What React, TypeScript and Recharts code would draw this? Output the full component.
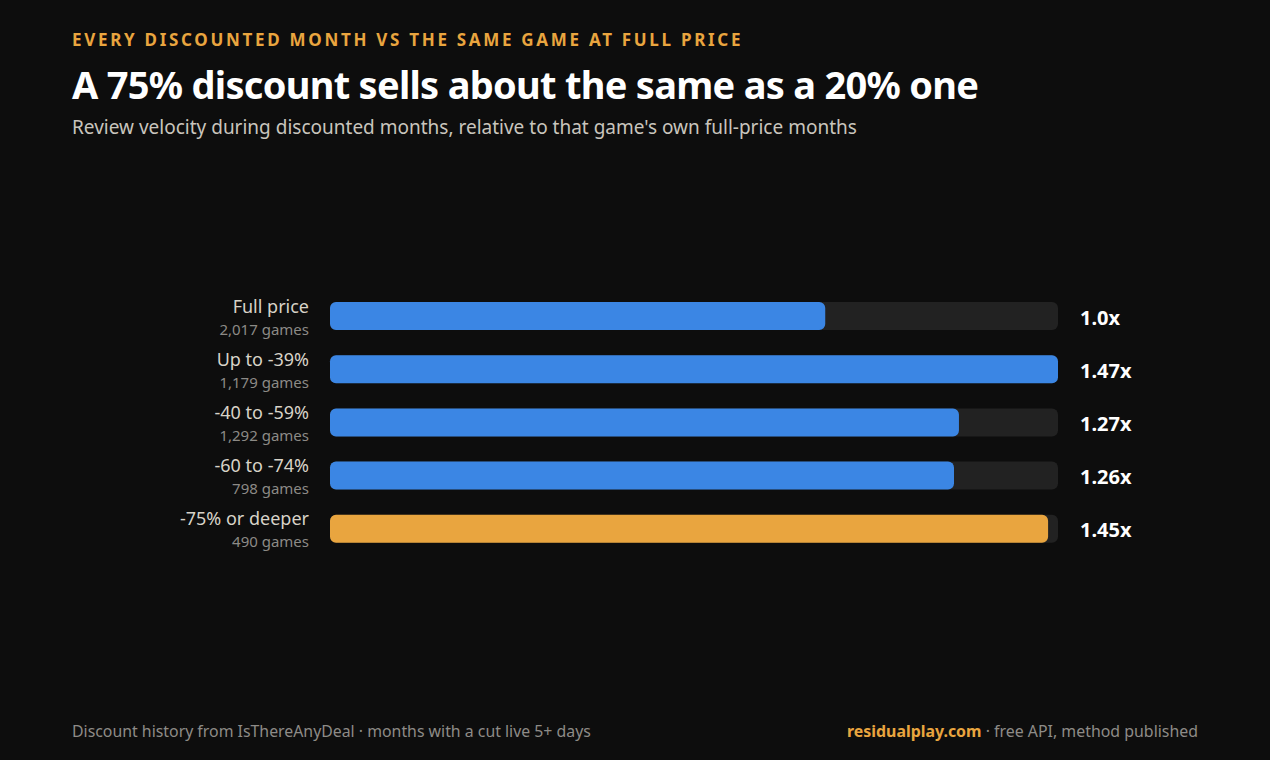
import React from 'react';
import { BarChart, Bar, XAxis, YAxis, Cell } from 'recharts';

// Discount buckets and their review velocity vs full price
const categories = ['Full price', 'Up to -39%', '-40 to -59%', '-60 to -74%', '-75% or deeper'];
const gameCounts = ['2,017 games', '1,179 games', '1,292 games', '798 games', '490 games'];
const multipliers = [1.0, 1.47, 1.27, 1.26, 1.45];
const valueLabels = ['1.0x', '1.47x', '1.27x', '1.26x', '1.45x'];
const highlight = [false, false, false, false, true];

const FONT = '"Noto Sans", "Open Sans", sans-serif';
const BLUE = '#3b86e4';
const ORANGE = '#e9a53f';

const chartData = categories.map((name, i) => ({
  name,
  games: gameCounts[i],
  value: multipliers[i],
  label: valueLabels[i],
  hot: highlight[i],
}));

const CategoryTick = (props: any) => {
  const { x, y, index } = props;
  const d = chartData[index];
  return (
    <g>
      <text x={x} y={y - 3} textAnchor="end" fill="#d8d3c8" fontSize={18} fontFamily={FONT}>
        {d.name}
      </text>
      <text x={x} y={y + 19} textAnchor="end" fill="#8c8a86" fontSize={15} fontFamily={FONT}>
        {d.games}
      </text>
    </g>
  );
};

const ValueTick = (props: any) => {
  const { x, y, index } = props;
  return (
    <text x={x} y={y + 9} textAnchor="start" fill="#ffffff" fontSize={20} fontWeight={700} fontFamily={FONT}>
      {chartData[index].label}
    </text>
  );
};

export default function App() {
  return (
    <div
      style={{
        position: 'absolute',
        left: 0,
        top: 0,
        width: 1270,
        height: 760,
        background: '#0d0d0d',
        fontFamily: FONT,
        overflow: 'hidden',
      }}
    >
      {/* Header */}
      <div
        style={{
          position: 'absolute',
          left: 72,
          top: 28,
          color: ORANGE,
          fontSize: 17,
          fontWeight: 700,
          letterSpacing: 2.7,
          whiteSpace: 'nowrap',
        }}
      >
        EVERY DISCOUNTED MONTH VS THE SAME GAME AT FULL PRICE
      </div>
      <div
        style={{
          position: 'absolute',
          left: 72,
          top: 58,
          color: '#ffffff',
          fontSize: 38,
          fontWeight: 700,
          letterSpacing: -0.72,
          whiteSpace: 'nowrap',
        }}
      >
        A 75% discount sells about the same as a 20% one
      </div>
      <div
        style={{
          position: 'absolute',
          left: 72,
          top: 114,
          color: '#c9c5bd',
          fontSize: 19,
          whiteSpace: 'nowrap',
        }}
      >
        Review velocity during discounted months, relative to that game's own full-price months
      </div>

      {/* Chart */}
      <div style={{ position: 'absolute', left: 0, top: 289 }}>
        <BarChart
          width={1270}
          height={266}
          data={chartData}
          layout="vertical"
          margin={{ top: 0, right: 0, bottom: 0, left: 0 }}
        >
          <XAxis type="number" domain={[0, 1.47]} hide />
          <YAxis
            yAxisId="left"
            type="category"
            dataKey="name"
            width={330}
            axisLine={false}
            tickLine={false}
            tickSize={0}
            tickMargin={21}
            tick={<CategoryTick />}
            interval={0}
          />
          <YAxis
            yAxisId="right"
            orientation="right"
            type="category"
            dataKey="name"
            width={212}
            axisLine={false}
            tickLine={false}
            tickSize={0}
            tickMargin={22}
            tick={<ValueTick />}
            interval={0}
          />
          <Bar
            yAxisId="left"
            dataKey="value"
            barSize={28}
            radius={6}
            background={{ fill: '#222222', radius: 6 } as any}
            isAnimationActive={false}
          >
            {chartData.map((d, i) => (
              <Cell key={i} fill={d.hot ? ORANGE : BLUE} />
            ))}
          </Bar>
        </BarChart>
      </div>

      {/* Footer */}
      <div
        style={{
          position: 'absolute',
          left: 72,
          top: 720,
          color: '#8d8b87',
          fontSize: 15.85,
          whiteSpace: 'nowrap',
        }}
      >
        Discount history from IsThereAnyDeal · months with a cut live 5+ days
      </div>
      <div
        style={{
          position: 'absolute',
          right: 72,
          top: 720,
          color: '#8d8b87',
          fontSize: 15.9,
          whiteSpace: 'nowrap',
        }}
      >
        <span style={{ color: ORANGE, fontWeight: 700 }}>residualplay.com</span> · free API, method published
      </div>
    </div>
  );
}
